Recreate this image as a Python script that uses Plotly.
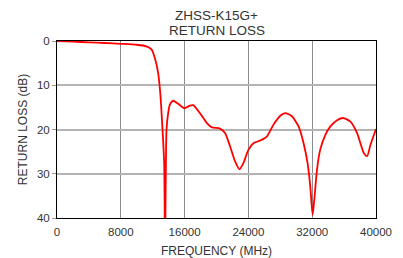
import plotly.graph_objects as go

freq_mhz = [0, 2000, 4000, 6000, 8000, 10000, 11200, 11850, 12260, 12680, 12980, 13230, 13440, 13550,
            13730, 13940, 14150, 14570, 15200, 15950, 16670, 17080, 17920, 18770, 19400, 20440,
            21070, 21700, 22330, 22870, 23370, 24000, 24630, 25470, 26310, 27150, 27990, 28620,
            29460, 30290, 30920, 31420, 31760, 32050, 32260, 32600, 33000, 33650, 34280, 35120,
            35870, 36790, 37630, 38470, 38890, 39300, 40000]
return_loss_db = [0.0, 0.15, 0.3, 0.45, 0.63, 0.85, 1.2, 1.9, 3.8, 7.2, 12.5, 20.0, 27.6, 48.0,
                  20.0, 16.3, 14.4, 13.5, 14.2, 15.2, 14.6, 14.5, 16.3, 18.5, 19.5, 19.8,
                  20.8, 23.8, 27.2, 29.0, 27.6, 24.6, 23.1, 22.5, 21.6, 18.9, 16.9, 16.3,
                  17.0, 19.3, 23.1, 27.6, 32.9, 39.3, 35.9, 29.1, 24.6, 21.2, 19.3, 17.9,
                  17.4, 18.2, 20.8, 25.3, 26.0, 23.5, 19.9]
x_ticks = [0, 8000, 16000, 24000, 32000, 40000]
y_ticks = [0, 10, 20, 30, 40]
title_lines = ["ZHSS-K15G+", "RETURN LOSS"]

fig = go.Figure()
fig.add_trace(go.Scatter(x=freq_mhz, y=return_loss_db, mode="lines",
                         line=dict(color="#ff0000", width=1.8, shape="spline", smoothing=0.6),
                         showlegend=False))

fnt = "Liberation Sans, Arial, sans-serif"
txt = "#333333"
# page body has an 8px margin: figure is 395x250 so the plot lands where the reference has it
fig.update_layout(
    width=395, height=250,
    margin=dict(l=49, r=27, t=33, b=40),
    paper_bgcolor="white", plot_bgcolor="white",
    font=dict(family=fnt, color=txt, size=11),
    xaxis=dict(range=[0, 40000], tickvals=x_ticks, ticktext=[str(v) for v in x_ticks],
               showgrid=True, gridcolor="#8c8c8c", gridwidth=1,
               showline=True, linecolor="black", linewidth=1, mirror=True,
               ticks="", zeroline=False, automargin=False, ticklabelstandoff=3,
               title=dict(text="FREQUENCY (MHz)", font=dict(size=12, color=txt), standoff=9),
               tickfont=dict(size=11.5, color=txt)),
    yaxis=dict(range=[40, 0], tickvals=y_ticks, ticktext=[str(v) for v in y_ticks],
               showgrid=True, gridcolor="#b4b4b4", gridwidth=1.5,
               showline=True, linecolor="black", linewidth=1, mirror=True,
               ticks="outside", ticklen=4, tickcolor="#999999", zeroline=False, automargin=False,
               title=dict(text="RETURN LOSS (dB)", font=dict(size=12, color=txt), standoff=6),
               tickfont=dict(size=11.5, color=txt)),
)
for i, line in enumerate(title_lines):
    fig.add_annotation(text=line, xref="paper", yref="paper", x=0.5, y=1, xanchor="center",
                       yanchor="middle", yshift=26 - 15.3 * i, showarrow=False,
                       font=dict(size=13.5, color=txt, family=fnt))
fig.write_html("out.html")
